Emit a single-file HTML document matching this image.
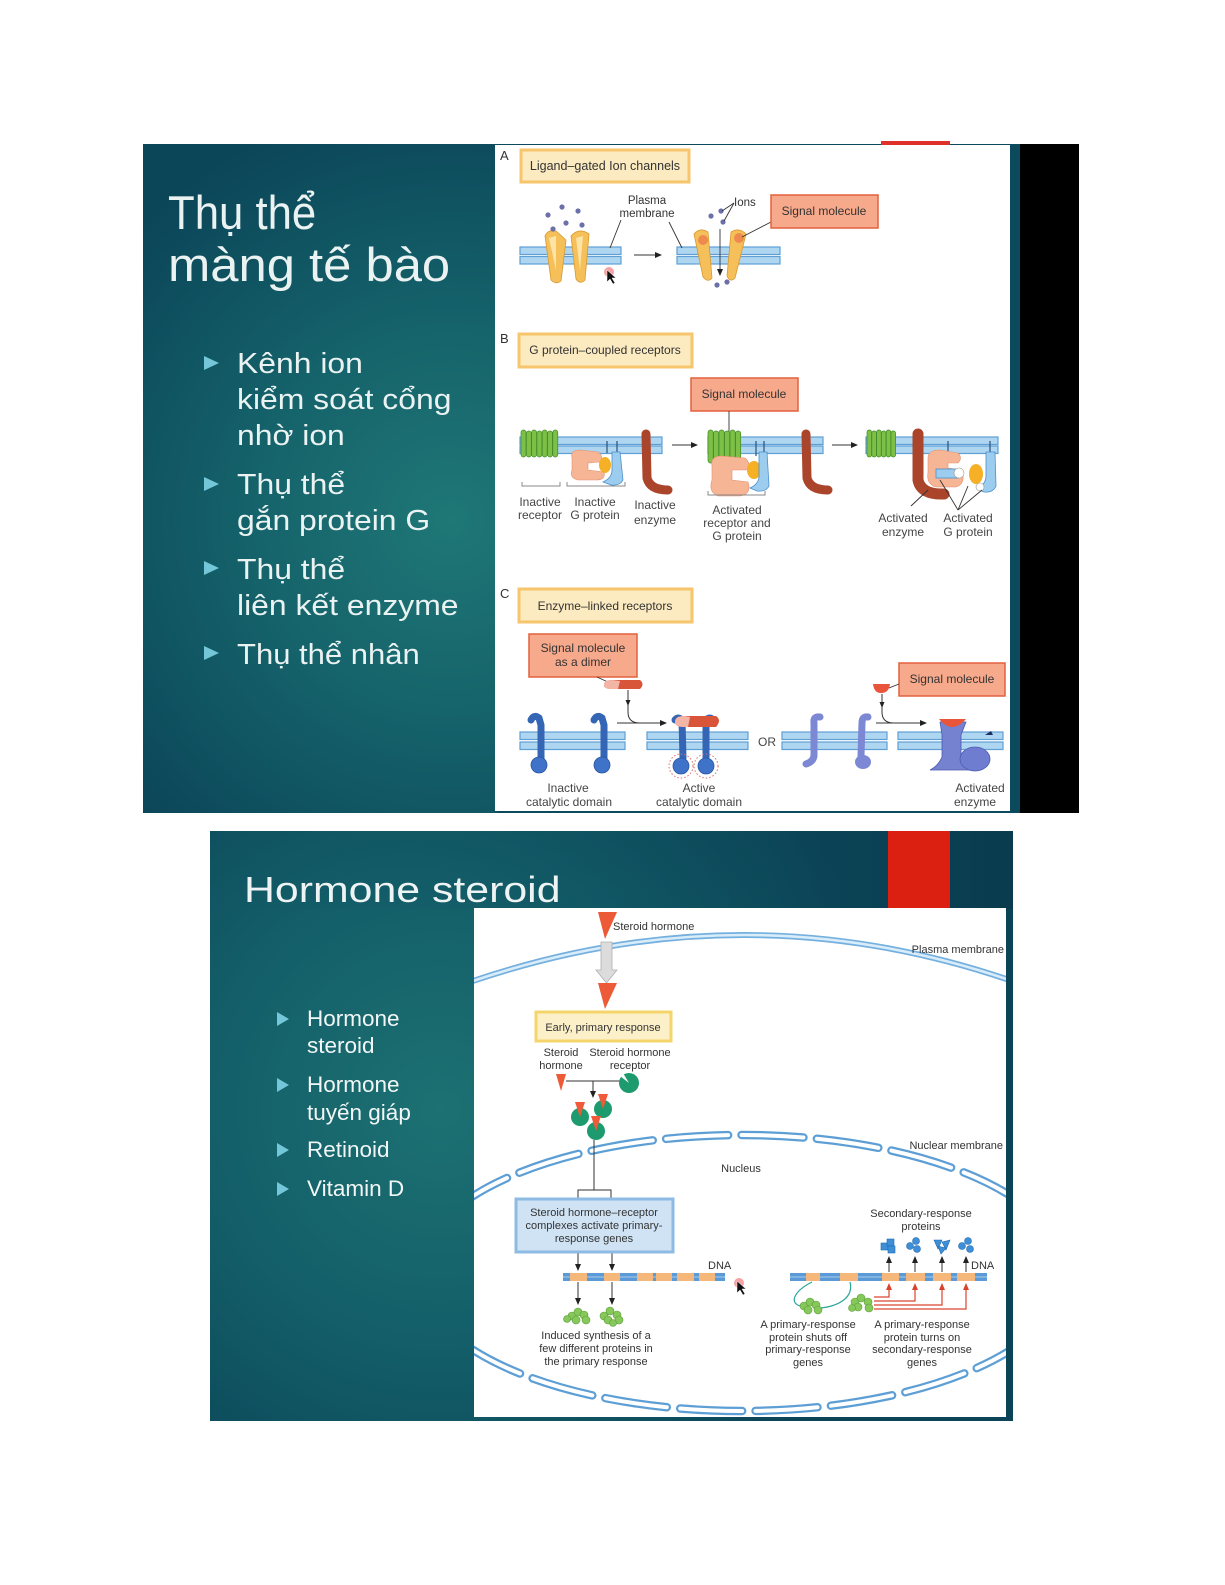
<!DOCTYPE html>
<html><head><meta charset="utf-8">
<style>
html,body{margin:0;padding:0;background:#fff;width:1225px;height:1585px;overflow:hidden;}
svg{display:block;}
text{font-family:"Liberation Sans","DejaVu Sans",sans-serif;}
</style></head>
<body>
<svg xmlns="http://www.w3.org/2000/svg" width="1225" height="1585" viewBox="0 0 1225 1585">
<defs>
<radialGradient id="bgA" gradientUnits="userSpaceOnUse" cx="450" cy="520" r="430">
<stop offset="0" stop-color="#1f7776"/><stop offset="0.45" stop-color="#15636b"/><stop offset="1" stop-color="#0b4558"/>
</radialGradient>
<radialGradient id="bgB" gradientUnits="userSpaceOnUse" cx="440" cy="1110" r="470">
<stop offset="0" stop-color="#1c7172"/><stop offset="0.5" stop-color="#135e69"/><stop offset="1" stop-color="#0b4456"/>
</radialGradient>
<linearGradient id="topB" x1="0" y1="0" x2="1" y2="0">
<stop offset="0" stop-color="#0c4a5c" stop-opacity="0"/><stop offset="0.7" stop-color="#0b4356" stop-opacity="0.3"/><stop offset="1" stop-color="#0a3a4e" stop-opacity="0.9"/>
</linearGradient>
<clipPath id="clipB"><rect x="474" y="908" width="532" height="509"/></clipPath>
</defs>

<!-- ============ TOP SLIDE ============ -->
<rect x="143" y="144" width="936" height="669" fill="#0b4a5c"/>
<rect x="143" y="144" width="354" height="669" fill="url(#bgA)"/>
<rect x="1020" y="144" width="59" height="669" fill="#000"/>
<rect x="495" y="145" width="515" height="666" fill="#fff"/>
<rect x="881" y="141" width="69" height="4" fill="#e0302a"/>

<g fill="#eaf2f2">
<text transform="translate(168,229) scale(0.93,1)" font-size="47">Thụ thể</text>
<text transform="translate(168,281) scale(1.08,1)" font-size="47">màng tế bào</text>
<g font-size="29">
<text transform="translate(237,373) scale(1.1,1)">Kênh ion</text>
<text transform="translate(237,409) scale(1.1,1)">kiểm soát cổng</text>
<text transform="translate(237,445) scale(1.1,1)">nhờ ion</text>
<text transform="translate(237,494) scale(1.1,1)">Thụ thể</text>
<text transform="translate(237,530) scale(1.1,1)">gắn protein G</text>
<text transform="translate(237,579) scale(1.1,1)">Thụ thể</text>
<text transform="translate(237,615) scale(1.1,1)">liên kết enzyme</text>
<text transform="translate(237,664) scale(1.07,1)">Thụ thể nhân</text>
</g>
</g>
<g fill="#74c7d8">
<polygon points="204,356 219,363 204,370"/>
<polygon points="204,477 219,484 204,491"/>
<polygon points="204,561 219,568 204,575"/>
<polygon points="204,646 219,653 204,660"/>
</g>

<!-- Panel A -->
<g font-size="12" fill="#333">
<text x="500" y="160" font-size="13">A</text>
<text x="500" y="343" font-size="13">B</text>
<text x="500" y="598" font-size="13">C</text>
</g>
<rect x="521" y="150" width="168" height="32" fill="#fcebc0" stroke="#f6c56c" stroke-width="3"/>
<text x="605" y="170" font-size="12.5" text-anchor="middle" fill="#333">Ligand–gated Ion channels</text>

<g fill="#aed6f1" stroke="#5e9fd4" stroke-width="1.2">
<rect x="520" y="247" width="101" height="7.5"/><rect x="520" y="256.5" width="101" height="7.5"/>
<rect x="677" y="247" width="103" height="7.5"/><rect x="677" y="256.5" width="103" height="7.5"/>
</g>
<g fill="#f5c05a" stroke="#d9982e" stroke-width="0.8">
<path d="M545 236 Q548 229 556 231 L566 240 L561 281 Q556 285 551 280 Z"/>
<path d="M571 236 Q579 227 589 234 L585 280 Q580 285 576 279 Z"/>
<path d="M694 234 Q700 227 708 232 L712 278 Q708 283 703 277 Z"/>
<path d="M731 232 Q739 227 746 234 L735 278 Q730 283 727 276 Z"/>
</g>
<g fill="#fde4a6" stroke="none">
<path d="M549 238 L556 236 L556 270 Z"/><path d="M576 238 L583 236 L580 270 Z"/>
</g>
<circle cx="703" cy="240" r="5" fill="#ef8a4e"/><circle cx="739" cy="238" r="5" fill="#ef8a4e"/>
<g fill="#6c70a8">
<circle cx="562" cy="207" r="2.6"/><circle cx="578" cy="211" r="2.6"/><circle cx="548" cy="215" r="2.6"/>
<circle cx="566" cy="223" r="2.6"/><circle cx="582" cy="225" r="2.6"/><circle cx="553" cy="229" r="2.6"/>
<circle cx="711" cy="216" r="2.6"/><circle cx="721" cy="211" r="2.6"/><circle cx="723" cy="222" r="2.6"/>
<circle cx="717" cy="285" r="2.6"/><circle cx="727" cy="282" r="2.6"/>
</g>
<g stroke="#333" stroke-width="0.9" fill="none">
<line x1="621" y1="220" x2="610" y2="248"/><line x1="669" y1="222" x2="682" y2="248"/>
<line x1="634" y1="255" x2="656" y2="255"/>
<line x1="720" y1="229" x2="720" y2="270"/>
<line x1="734" y1="203" x2="722" y2="211"/><line x1="734" y1="203" x2="724" y2="221"/>
<line x1="771" y1="222" x2="742" y2="237"/>
</g>
<polygon points="662,255 655,252 655,258" fill="#222"/>
<polygon points="720,276 717,269 723,269" fill="#222"/>
<text x="647" y="204" font-size="11.5" text-anchor="middle" fill="#333">Plasma</text>
<text x="647" y="217" font-size="11.5" text-anchor="middle" fill="#333">membrane</text>
<text x="734" y="206" font-size="11.5" fill="#333">Ions</text>
<rect x="771" y="195" width="107" height="33" fill="#f7a98b" stroke="#e3613f" stroke-width="1.5"/>
<text x="824" y="215" font-size="12" text-anchor="middle" fill="#333">Signal molecule</text>
<circle cx="609" cy="272" r="5" fill="#f27b7b" opacity="0.7"/>
<path d="M607 270 L607 282 L610 279 L613 284 L615 283 L612 278 L616 278 Z" fill="#111" stroke="#fff" stroke-width="0.5"/>

<!-- Panel B -->
<rect x="519" y="334" width="173" height="33" fill="#fcebc0" stroke="#f6c56c" stroke-width="3"/>
<text x="605" y="354" font-size="12" text-anchor="middle" fill="#333">G protein–coupled receptors</text>
<rect x="691" y="378" width="107" height="33" fill="#f7a98b" stroke="#e3613f" stroke-width="1.5"/>
<text x="744" y="398" font-size="12" text-anchor="middle" fill="#333">Signal molecule</text>
<line x1="729" y1="411" x2="729" y2="440" stroke="#333" stroke-width="0.9"/>
<g fill="#aed6f1" stroke="#5e9fd4" stroke-width="1.2">
<rect x="520" y="437" width="142" height="7.5"/><rect x="520" y="446" width="142" height="7.5"/>
<rect x="708" y="437" width="115" height="7.5"/><rect x="708" y="446" width="115" height="7.5"/>
<rect x="866" y="437" width="132" height="7.5"/><rect x="866" y="446" width="132" height="7.5"/>
</g>
<g fill="#7dbf47" stroke="#3f8a28" stroke-width="0.7">
<rect x="521" y="430" width="5" height="27" rx="2.4"/><rect x="526.3" y="431" width="5" height="26" rx="2.4"/><rect x="531.6" y="430" width="5" height="27" rx="2.4"/><rect x="536.9" y="431" width="5" height="26" rx="2.4"/><rect x="542.2" y="430" width="5" height="27" rx="2.4"/><rect x="547.5" y="431" width="5" height="26" rx="2.4"/><rect x="552.8" y="430" width="5" height="27" rx="2.4"/>
<rect x="708" y="430" width="5.2" height="33" rx="2.4"/><rect x="713.5" y="431" width="5.2" height="34" rx="2.4"/><rect x="719" y="430" width="5.2" height="33" rx="2.4"/><rect x="724.5" y="431" width="5.2" height="34" rx="2.4"/><rect x="730" y="430" width="5.2" height="33" rx="2.4"/><rect x="735.5" y="431" width="5.2" height="32" rx="2.4"/>
<rect x="867" y="430" width="4.6" height="27" rx="2.2"/><rect x="871.8" y="431" width="4.6" height="26" rx="2.2"/><rect x="876.6" y="430" width="4.6" height="27" rx="2.2"/><rect x="881.4" y="431" width="4.6" height="26" rx="2.2"/><rect x="886.2" y="430" width="4.6" height="27" rx="2.2"/><rect x="891" y="431" width="4.6" height="26" rx="2.2"/>
</g>
<g stroke="#2c4f7c" stroke-width="1.2">
<line x1="607" y1="441" x2="607" y2="453"/><line x1="617" y1="441" x2="617" y2="453"/>
<line x1="756" y1="441" x2="756" y2="456"/><line x1="764" y1="441" x2="764" y2="453"/>
<line x1="948" y1="441" x2="948" y2="452"/><line x1="990" y1="441" x2="990" y2="452"/>
</g>
<path d="M572 458 Q570 450 580 450 L598 452 Q604 456 600 462 L588 463 L588 470 L604 472 Q606 480 596 480 L578 480 Q569 478 572 470 Z" fill="#f6b595" stroke="#e39272" stroke-width="0.6"/>
<ellipse cx="605" cy="465" rx="6" ry="8" fill="#f5b025"/>
<path d="M612 452 L620 452 L623 480 Q620 486 611 485 L603 482 Q612 478 612 470 Z" fill="#9ccdee" stroke="#4a8fcc" stroke-width="0.8"/>
<path d="M712 466 Q710 456 722 456 L745 458 Q752 464 746 470 L732 470 L732 480 L748 482 Q752 494 740 496 L718 496 Q708 492 712 480 Z" fill="#f6b595" stroke="#e39272" stroke-width="0.6"/>
<ellipse cx="754" cy="470" rx="7" ry="9" fill="#f5b025"/>
<path d="M759 452 L767 452 L769 486 Q766 492 757 491 L750 488 Q759 484 759 476 Z" fill="#9ccdee" stroke="#4a8fcc" stroke-width="0.8"/>
<g fill="none" stroke="#aa452c" stroke-linecap="round">
<path d="M646 434 L647 478 Q650 490 668 490" stroke-width="9"/>
<path d="M806 434 L807 478 Q810 490 828 490" stroke-width="9"/>
<path d="M918 434 L918 480 Q921 495 944 494" stroke-width="11"/>
</g>
<path d="M928 458 Q928 450 940 450 L958 453 Q963 458 958 463 L948 463 L948 468 L962 470 Q966 484 956 487 L936 487 Q926 484 928 472 Z" fill="#f6b595" stroke="#e39272" stroke-width="0.6"/>
<rect x="936" y="469" width="22" height="9" fill="#9ccdee" stroke="#4a8fcc" stroke-width="0.8"/>
<circle cx="959" cy="473" r="5" fill="#fff" stroke="#999" stroke-width="0.6"/>
<ellipse cx="976" cy="474" rx="7" ry="10" fill="#f5b025"/>
<path d="M986 452 L995 452 L996 486 Q993 493 984 492 L977 489 Q986 484 986 476 Z" fill="#9ccdee" stroke="#4a8fcc" stroke-width="0.8"/>
<circle cx="980" cy="487" r="4" fill="#fff" stroke="#999" stroke-width="0.6"/>
<g stroke="#333" stroke-width="0.9">
<line x1="672" y1="445" x2="693" y2="445"/><line x1="832" y1="445" x2="853" y2="445"/>
<line x1="911" y1="506" x2="928" y2="490"/>
<line x1="958" y1="510" x2="940" y2="480"/><line x1="958" y1="510" x2="968" y2="486"/><line x1="958" y1="510" x2="982" y2="490"/>
</g>
<polygon points="698,445 691,442 691,448" fill="#222"/><polygon points="858,445 851,442 851,448" fill="#222"/>
<g fill="none" stroke="#888" stroke-width="1">
<path d="M522 482 L522 486 L560 486 L560 482"/><path d="M567 482 L567 486 L625 486 L625 482"/><path d="M708 491 L708 495 L765 495 L765 491"/>
</g>
<g font-size="12" text-anchor="middle" fill="#444">
<text x="540" y="506">Inactive</text><text x="540" y="519">receptor</text>
<text x="595" y="506">Inactive</text><text x="595" y="519">G protein</text>
<text x="655" y="509">Inactive</text><text x="655" y="524">enzyme</text>
<text x="737" y="514">Activated</text><text x="737" y="527">receptor and</text><text x="737" y="540">G protein</text>
<text x="903" y="522">Activated</text><text x="903" y="536">enzyme</text>
<text x="968" y="522">Activated</text><text x="968" y="536">G protein</text>
</g>

<!-- Panel C -->
<rect x="519" y="589" width="173" height="33" fill="#fcebc0" stroke="#f6c56c" stroke-width="3"/>
<text x="605" y="610" font-size="12" text-anchor="middle" fill="#333">Enzyme–linked receptors</text>
<rect x="529" y="634" width="108" height="43" fill="#f7a98b" stroke="#e3613f" stroke-width="1.5"/>
<text x="583" y="652" font-size="12" text-anchor="middle" fill="#333">Signal molecule</text>
<text x="583" y="666" font-size="12" text-anchor="middle" fill="#333">as a dimer</text>
<line x1="597" y1="677" x2="610" y2="683" stroke="#333" stroke-width="0.9"/>
<path d="M604 685 Q604 680 612 680 L640 680 Q645 684 640 689 L612 689 Q604 689 604 685 Z" fill="#d9553a"/>
<path d="M604 685 Q604 680 612 680 L620 681 L618 689 L612 689 Q604 689 604 685 Z" fill="#f3b6a6"/>
<rect x="899" y="663" width="106" height="33" fill="#f7a98b" stroke="#e3613f" stroke-width="1.5"/>
<text x="952" y="683" font-size="12" text-anchor="middle" fill="#333">Signal molecule</text>
<line x1="899" y1="684" x2="889" y2="688" stroke="#333" stroke-width="0.9"/>
<path d="M873 684 L890 684 Q889 693 881 693 Q874 693 873 684 Z" fill="#e8553a"/>
<g fill="none" stroke="#333" stroke-width="1">
<path d="M628 690 L628 712 Q628 723 640 723 L661 723"/><path d="M617 723 L640 723"/>
<path d="M882 694 L882 712 Q882 723 894 723 L921 723"/><path d="M876 723 L894 723"/>
</g>
<polygon points="667,723 660,720 660,726" fill="#222"/><polygon points="927,723 920,720 920,726" fill="#222"/>
<polygon points="628,706 625.5,700 630.5,700" fill="#222"/><polygon points="882,708 879.5,702 884.5,702" fill="#222"/>
<g fill="#aed6f1" stroke="#5e9fd4" stroke-width="1.2">
<rect x="520" y="732" width="105" height="7.5"/><rect x="520" y="742" width="105" height="7.5"/>
<rect x="647" y="732" width="101" height="7.5"/><rect x="647" y="742" width="101" height="7.5"/>
<rect x="782" y="732" width="105" height="7.5"/><rect x="782" y="742" width="105" height="7.5"/>
<rect x="898" y="732" width="105" height="7.5"/><rect x="898" y="742" width="105" height="7.5"/>
</g>
<text x="767" y="746" font-size="12" text-anchor="middle" fill="#444">OR</text>
<g fill="none" stroke="#3565b5" stroke-linecap="round">
<path d="M531 720 Q534 714 539 718 L541 725 L541 758" stroke-width="7"/>
<path d="M594 720 Q597 714 602 718 L604 725 L604 758" stroke-width="7"/>
<path d="M675 720 Q678 716 682 720 L683 758" stroke-width="7"/>
<path d="M713 720 Q710 716 706 720 L706 758" stroke-width="7"/>
</g>
<g fill="#3f73c9" stroke="#2a55a0" stroke-width="0.8">
<circle cx="539" cy="765" r="8"/><circle cx="602" cy="765" r="8"/>
<circle cx="681" cy="766" r="8"/><circle cx="706" cy="766" r="8"/>
</g>
<g fill="none" stroke="#e06a6a" stroke-width="1" stroke-dasharray="1.5 2">
<circle cx="681" cy="766" r="12"/><circle cx="706" cy="766" r="12"/>
</g>
<path d="M675 722 Q675 716 684 716 L716 716 Q722 720 716 727 L684 727 Q675 727 675 722 Z" fill="#d9553a"/>
<path d="M675 722 Q675 716 684 716 L690 717 L688 727 L684 727 Q675 727 675 722 Z" fill="#f3b6a6"/>
<g fill="none" stroke="#7c88d4" stroke-linecap="round">
<path d="M820 717 Q813 716 814 723 L814 756 Q813 762 806 764" stroke-width="7"/>
<path d="M868 717 Q862 716 862 723 L861 756" stroke-width="7"/>
</g>
<ellipse cx="863" cy="762" rx="8" ry="7" fill="#7c88d4"/>
<path d="M940 722 L966 722 L961 735 L961 757 Q966 766 972 770 L930 770 Q938 766 942 757 L942 735 Z" fill="#7482d0" stroke="#4f5bb0" stroke-width="0.8"/>
<ellipse cx="975" cy="759" rx="15" ry="12" fill="#6f7dd0" stroke="#4f5bb0" stroke-width="0.8"/>
<path d="M939 719 Q952 735 966 719 Z" fill="#e8553a"/>
<path d="M985 735 L991 731 L993 735 Z" fill="#1f2f60"/>
<g font-size="12" text-anchor="middle" fill="#444">
<text x="568" y="792">Inactive</text><text x="569" y="806">catalytic domain</text>
<text x="699" y="792">Active</text><text x="699" y="806">catalytic domain</text>
<text x="980" y="792">Activated</text><text x="975" y="806">enzyme</text>
</g>

<!-- ============ BOTTOM SLIDE ============ -->
<rect x="210" y="831" width="803" height="590" fill="url(#bgB)"/>
<rect x="210" y="831" width="803" height="78" fill="url(#topB)"/>
<rect x="888" y="831" width="62" height="77" fill="#db1f10"/>
<rect x="474" y="908" width="532" height="509" fill="#fff"/>
<text transform="translate(244,902) scale(1.19,1)" font-size="36" fill="#eef4f4">Hormone steroid</text>
<g fill="#f2f6f6" font-size="22.5">
<text x="307" y="1026">Hormone</text><text x="307" y="1053">steroid</text>
<text x="307" y="1092">Hormone</text><text x="307" y="1120">tuyến giáp</text>
<text x="307" y="1157">Retinoid</text><text x="307" y="1196">Vitamin D</text>
</g>
<g fill="#74c7d8">
<polygon points="277,1012 289,1019 277,1026"/><polygon points="277,1078 289,1085 277,1092"/>
<polygon points="277,1143 289,1150 277,1157"/><polygon points="277,1182 289,1189 277,1196"/>
</g>

<g clip-path="url(#clipB)">
<path d="M470 982 Q745 888 1015 982" fill="none" stroke="#74b0df" stroke-width="6"/>
<path d="M470 982 Q745 888 1015 982" fill="none" stroke="#d8ecf9" stroke-width="2.6"/>
<ellipse cx="742" cy="1273" rx="324" ry="138" fill="none" stroke="#5d9fd5" stroke-width="8.5" stroke-dasharray="62 13.5" stroke-linecap="round"/>
<ellipse cx="742" cy="1273" rx="324" ry="138" fill="none" stroke="#fff" stroke-width="4" stroke-dasharray="62 13.5" stroke-linecap="round"/>
</g>
<polygon points="598,912 617,912 605,939" fill="#ec5a38"/>
<text x="613" y="930" font-size="11" fill="#333">Steroid hormone</text>
<path d="M601 942 L612 942 L612 970 L617 970 L606.5 983 L596 970 L601 970 Z" fill="#dcdcdc" stroke="#b0b0b0" stroke-width="0.8"/>
<polygon points="598,983 617,983 605,1009" fill="#ec5a38"/>
<text x="1004" y="953" font-size="11" text-anchor="end" fill="#333">Plasma membrane</text>
<rect x="536" y="1012" width="135" height="29" fill="#fcf0c8" stroke="#f6d46c" stroke-width="3"/>
<text x="603" y="1031" font-size="11" text-anchor="middle" fill="#333">Early, primary response</text>
<g font-size="11" text-anchor="middle" fill="#333">
<text x="561" y="1056">Steroid</text><text x="561" y="1069">hormone</text>
<text x="630" y="1056">Steroid hormone</text><text x="630" y="1069">receptor</text>
</g>
<polygon points="556,1074 566,1074 561,1091" fill="#ec5a38"/>
<line x1="566" y1="1081" x2="620" y2="1081" stroke="#333" stroke-width="1"/>
<line x1="593" y1="1081" x2="593" y2="1092" stroke="#333" stroke-width="1"/>
<polygon points="593,1098 590,1091 596,1091" fill="#222"/>
<circle cx="629" cy="1083" r="10" fill="#1d9a6e"/>
<path d="M629 1083 L620 1076 L623 1073 Z" fill="#fff"/>
<g>
<circle cx="580" cy="1117" r="9" fill="#1d9a6e"/><polygon points="575,1102 585,1102 580,1117" fill="#ee5a3a"/>
<circle cx="603" cy="1109" r="9" fill="#1d9a6e"/><polygon points="598,1094 608,1094 603,1109" fill="#ee5a3a"/>
<circle cx="596" cy="1131" r="9" fill="#1d9a6e"/><polygon points="591,1116 601,1116 596,1131" fill="#ee5a3a"/>
</g>
<text x="1003" y="1149" font-size="11" text-anchor="end" fill="#333">Nuclear membrane</text>
<text x="741" y="1172" font-size="11" text-anchor="middle" fill="#333">Nucleus</text>
<g fill="none" stroke="#333" stroke-width="1">
<line x1="594" y1="1140" x2="594" y2="1190"/><path d="M578 1200 L578 1190 L611 1190 L611 1200"/>
<line x1="578" y1="1253" x2="578" y2="1265"/><line x1="612" y1="1253" x2="612" y2="1265"/>
<line x1="578" y1="1282" x2="578" y2="1299"/><line x1="612" y1="1282" x2="612" y2="1299"/>
<line x1="889" y1="1272" x2="889" y2="1262"/><line x1="915" y1="1272" x2="915" y2="1262"/>
<line x1="942" y1="1272" x2="942" y2="1262"/><line x1="966" y1="1272" x2="966" y2="1262"/>
</g>
<g fill="#222">
<polygon points="578,1271 575,1264 581,1264"/><polygon points="612,1271 609,1264 615,1264"/>
<polygon points="578,1305 575,1298 581,1298"/><polygon points="612,1305 609,1298 615,1298"/>
<polygon points="889,1256 886,1263 892,1263"/><polygon points="915,1256 912,1263 918,1263"/>
<polygon points="942,1256 939,1263 945,1263"/><polygon points="966,1256 963,1263 969,1263"/>
</g>
<rect x="516" y="1199" width="157" height="53" fill="#cfe3f5" stroke="#8dbbe4" stroke-width="3"/>
<g font-size="11" text-anchor="middle" fill="#333">
<text x="594" y="1216">Steroid hormone–receptor</text>
<text x="594" y="1229">complexes activate primary-</text>
<text x="594" y="1242">response genes</text>
</g>
<rect x="563" y="1273" width="162" height="8" fill="#5b9ad6"/>
<line x1="563" y1="1277" x2="725" y2="1277" stroke="#a9cdef" stroke-width="1"/>
<g fill="#f5b77a">
<rect x="570" y="1273" width="17" height="8"/><rect x="604" y="1273" width="16" height="8"/><rect x="637" y="1273" width="16" height="8"/>
<rect x="656" y="1273" width="16" height="8"/><rect x="677" y="1273" width="17" height="8"/><rect x="699" y="1273" width="16" height="8"/>
</g>
<text x="708" y="1269" font-size="11" fill="#333">DNA</text>
<rect x="790" y="1273" width="197" height="8" fill="#5b9ad6"/>
<line x1="790" y1="1277" x2="987" y2="1277" stroke="#a9cdef" stroke-width="1"/>
<g fill="#f5b77a">
<rect x="806" y="1273" width="14" height="8"/><rect x="840" y="1273" width="18" height="8"/><rect x="882" y="1273" width="17" height="8"/>
<rect x="906" y="1273" width="19" height="8"/><rect x="933" y="1273" width="18" height="8"/><rect x="957" y="1273" width="18" height="8"/>
</g>
<text x="971" y="1269" font-size="11" fill="#333">DNA</text>
<g fill="#86c95a" stroke="#5c9c3a" stroke-width="0.6">
<circle cx="572" cy="1316" r="4"/><circle cx="578" cy="1312" r="4"/><circle cx="584" cy="1315" r="4"/><circle cx="576" cy="1320" r="4"/><circle cx="586" cy="1320" r="4"/><circle cx="567" cy="1319" r="3.5"/>
<circle cx="604" cy="1316" r="4"/><circle cx="610" cy="1311" r="4"/><circle cx="617" cy="1315" r="4"/><circle cx="608" cy="1320" r="4"/><circle cx="619" cy="1320" r="4"/><circle cx="613" cy="1323" r="3.5"/>
<circle cx="804" cy="1306" r="4"/><circle cx="810" cy="1302" r="4"/><circle cx="816" cy="1305" r="4"/><circle cx="808" cy="1310" r="4"/><circle cx="818" cy="1310" r="4"/>
<circle cx="855" cy="1302" r="4"/><circle cx="861" cy="1298" r="4"/><circle cx="868" cy="1302" r="4"/><circle cx="858" cy="1307" r="4"/><circle cx="869" cy="1308" r="4"/><circle cx="852" cy="1308" r="3.5"/>
</g>
<g fill="none" stroke="#2aa59a" stroke-width="1.2">
<path d="M812 1282 C796 1290 788 1302 800 1306"/>
<path d="M850 1282 C854 1298 838 1306 821 1308"/>
</g>
<g fill="none" stroke="#d9432e" stroke-width="1.2">
<path d="M874 1297 L889 1297 L889 1288"/><path d="M874 1301 L915 1301 L915 1288"/>
<path d="M874 1305 L942 1305 L942 1288"/><path d="M874 1309 L966 1309 L966 1288"/>
</g>
<g fill="#d9432e">
<polygon points="889,1283 886,1290 892,1290"/><polygon points="915,1283 912,1290 918,1290"/>
<polygon points="942,1283 939,1290 945,1290"/><polygon points="966,1283 963,1290 969,1290"/>
</g>
<g fill="#3f8fd8" stroke="#1f6bb0" stroke-width="0.6">
<rect x="881" y="1243" width="7" height="7"/><rect x="887" y="1239" width="7" height="7"/><rect x="888" y="1246" width="7" height="7"/>
<circle cx="910" cy="1246" r="3.5"/><circle cx="916" cy="1241" r="3.5"/><circle cx="917" cy="1249" r="3.5"/>
<polygon points="934,1240 942,1240 938,1249"/><polygon points="942,1242 950,1240 946,1250"/><polygon points="938,1246 946,1248 941,1254"/>
<circle cx="962" cy="1246" r="3.5"/><circle cx="968" cy="1241" r="3.5"/><circle cx="970" cy="1249" r="3.5"/>
</g>
<g font-size="11" text-anchor="middle" fill="#333">
<text x="921" y="1217">Secondary-response</text><text x="921" y="1230">proteins</text>
<text x="596" y="1339">Induced synthesis of a</text><text x="596" y="1352">few different proteins in</text><text x="596" y="1365">the primary response</text>
<text x="808" y="1328">A primary-response</text><text x="808" y="1341">protein shuts off</text><text x="808" y="1353">primary-response</text><text x="808" y="1366">genes</text>
<text x="922" y="1328">A primary-response</text><text x="922" y="1341">protein turns on</text><text x="922" y="1353">secondary-response</text><text x="922" y="1366">genes</text>
</g>
<circle cx="739" cy="1283" r="5" fill="#f27b7b" opacity="0.7"/>
<path d="M737 1281 L737 1293 L740 1290 L743 1295 L745 1294 L742 1289 L746 1289 Z" fill="#111" stroke="#fff" stroke-width="0.5"/>
</svg>
</body></html>
